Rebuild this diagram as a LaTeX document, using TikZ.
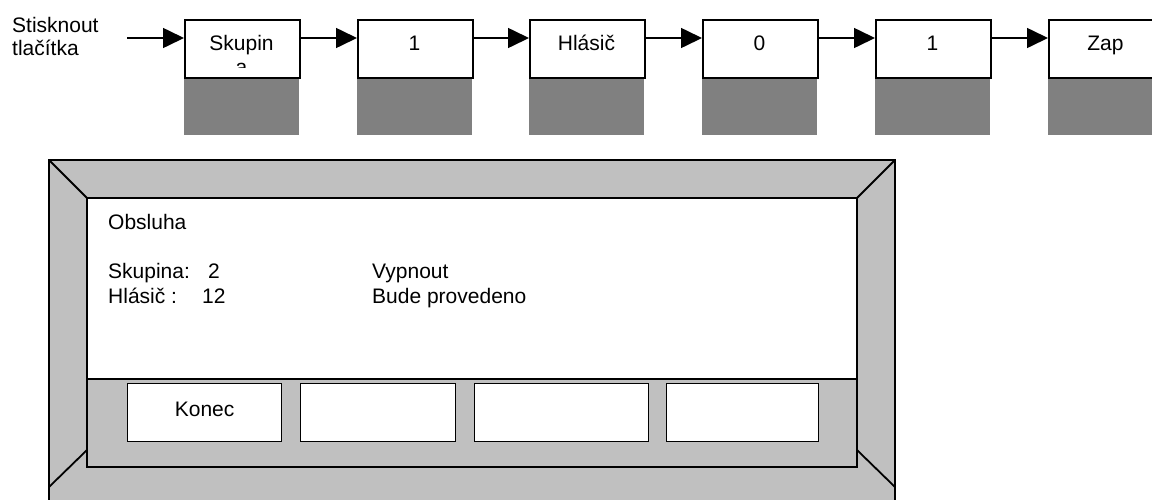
\documentclass[tikz,border=0pt]{standalone}
\usepackage{fontspec}
\setmainfont{Liberation Sans}
\usetikzlibrary{arrows.meta}
\definecolor{framegray}{RGB}{192,192,192}
\definecolor{keygray}{RGB}{128,128,128}
\begin{document}
\begin{tikzpicture}[x=1pt,y=-1pt,
  every node/.style={font=\fontsize{21}{24}\selectfont, inner sep=0pt},
  keybox/.style={draw=black, line width=1.6pt, fill=white, minimum width=115pt, minimum height=58pt, anchor=north west},
  keyshade/.style={fill=keygray},
  arr/.style={line width=1.6pt, -{Triangle[length=21pt,width=20pt]}},
  frameline/.style={draw=black, line width=1.8pt},
  btn/.style={draw=black, line width=1.3pt, fill=white, minimum height=58pt, anchor=north west},
  txt/.style={anchor=base west},
  ctxt/.style={anchor=base}]
\useasboundingbox (0,0) rectangle (1152,499);
\clip (0,0) rectangle (1152,499);

% --- top sequence of key presses
\node[txt] (lab1) at (12,32) {Stisknout};
\node[txt] (lab2) at (12,55) {tlačítka};
\coordinate (s) at (127,38);

\foreach \x in {184,357,529,702,875,1048}{
  \fill[keyshade] (\x,77) rectangle (\x+115,135);
}
\node[keybox] (k1) at (184,19) {};
\node[keybox] (k2) at (357,19) {};
\node[keybox] (k3) at (529,19) {};
\node[keybox] (k4) at (702,19) {};
\node[keybox] (k5) at (875,19) {};
\node[keybox] (k6) at (1048,19) {};

\begin{scope}
  \clip (185,20) rectangle (298,67.5);
  \node[ctxt] (t1a) at (241.5,50) {Skupin};
  \node[ctxt] (t1b) at (241.5,74) {a};
\end{scope}
\node[ctxt] (t2) at (414.5,50) {1};
\node[ctxt] (t3) at (586.5,50) {Hlásič};
\node[ctxt] (t4) at (759.5,50) {0};
\node[ctxt] (t5) at (932.5,50) {1};
\node[ctxt] (t6) at (1105.5,50) {Zap};

\draw[arr] (s) -- (s -| k1.west);
\draw[arr] (s -| k1.east) -- (s -| k2.west);
\draw[arr] (s -| k2.east) -- (s -| k3.west);
\draw[arr] (s -| k3.east) -- (s -| k4.west);
\draw[arr] (s -| k4.east) -- (s -| k5.west);
\draw[arr] (s -| k5.east) -- (s -| k6.west);

% --- display frame
\path[frameline, fill=framegray] (49,160) rectangle (895,520);
\draw[frameline] (49,160) -- (87,198);
\draw[frameline] (895,160) -- (857,198);
\draw[frameline] (49,487) -- (87,450);
\draw[frameline] (895,487) -- (857,450);
\path[frameline, fill=white] (87,198) rectangle (857,379);
\path[frameline, fill=framegray] (87,379) rectangle (857,467);

\node[txt] (obs) at (108,229) {Obsluha};
\node[txt] (sk) at (108,278) {\makebox[100pt][l]{Skupina:}2};
\node[txt] (hl) at (108,303) {\makebox[94pt][l]{Hlásič :}12};
\node[txt] (vy) at (372,278) {Vypnout};
\node[txt] (bp) at (372,303) {Bude provedeno};

\node[btn, minimum width=154pt] (b1) at (127,383) {};
\node[btn, minimum width=155pt] (b2) at (300,383) {};
\node[btn, minimum width=174pt] (b3) at (474,383) {};
\node[btn, minimum width=152pt] (b4) at (666,383) {};
\node[ctxt] (kon) at (b1.center |- 0,416) {Konec};
\end{tikzpicture}
\end{document}
